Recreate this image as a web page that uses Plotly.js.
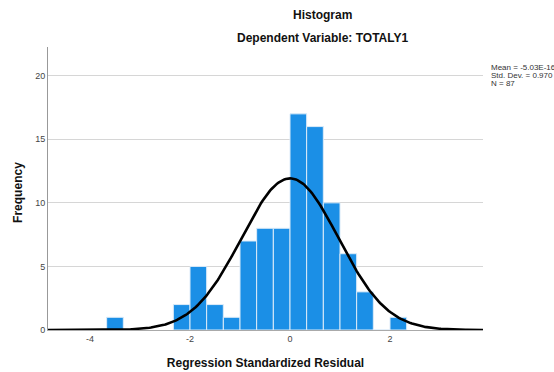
<!DOCTYPE html>
<html>
<head>
<meta charset="utf-8">
<script src="https://cdn.plot.ly/plotly-3.0.1.min.js"></script>
<style>
html,body{margin:0;padding:0;background:#fff;}
#chart{width:554px;height:372px;}
</style>
</head>
<body>
<div id="chart"></div>
<script>
// Histogram bins (lower edges) and frequencies
var binLower = [-3.667, -2.333, -2.0, -1.667, -1.333, -1.0, -0.667, -0.333, 0.0, 0.333, 0.667, 1.0, 1.333, 1.667, 2.0];
var frequency = [1, 2, 5, 2, 1, 7, 8, 8, 17, 16, 10, 6, 3, 0, 1];
var binWidth = 0.3333;

// Summary statistics shown on the chart
var statMean = -5.03e-16;
var statSD = 0.970;
var statN = 87;
var statLabels = ["Mean = -5.03E-16", "Std. Dev. = 0.970", "N = 87"];

var yTicks = [0, 5, 10, 15, 20];
var xTicks = [-4, -2, 0, 2];

// Fitted normal curve from the stated mean / SD / N
var curveX = [], curveY = [];
for (var i = 0; i <= 300; i++) {
  var x = -4.84 + (3.86 + 4.84) * i / 300;
  var z = (x - statMean) / statSD;
  curveX.push(x);
  curveY.push(statN * binWidth * Math.exp(-0.5 * z * z) / (statSD * Math.sqrt(2 * Math.PI)));
}

var bars = {
  type: 'bar',
  x: binLower,
  y: frequency,
  width: binWidth,
  offset: 0,
  marker: {color: '#1b8fe6', line: {color: '#dcebf8', width: 1}},
  hoverinfo: 'x+y'
};
var curve = {
  type: 'scatter',
  mode: 'lines',
  x: curveX,
  y: curveY,
  line: {color: '#000', width: 2.6},
  hoverinfo: 'skip'
};

var font = 'Liberation Sans, Arial, sans-serif';
var annotations = [
  {text: '<b>Histogram</b>', xref: 'paper', yref: 'paper', x: 0.630, y: 1.113, showarrow: false,
   xanchor: 'center', yanchor: 'middle', font: {family: font, size: 12, color: '#111'}},
  {text: '<b>Dependent Variable: TOTALY1</b>', xref: 'paper', yref: 'paper', x: 0.630, y: 1.032, showarrow: false,
   xanchor: 'center', yanchor: 'middle', font: {family: font, size: 12, color: '#111'}},
  {text: '<b>Frequency</b>', xref: 'paper', yref: 'paper', x: -0.069, y: 0.488, showarrow: false,
   textangle: -90, xanchor: 'center', yanchor: 'middle', font: {family: font, size: 12, color: '#111'}}
];
var legY = [0.927, 0.899, 0.870];
for (var k = 0; k < statLabels.length; k++) {
  annotations.push({text: statLabels[k], xref: 'paper', yref: 'paper', x: 1.013, y: legY[k], showarrow: false,
    xanchor: 'left', yanchor: 'middle', font: {family: font, size: 8, color: '#333'}});
}

var layout = {
  width: 554, height: 372,
  margin: {l: 48, r: 71, t: 47, b: 42, pad: 0},
  paper_bgcolor: '#fff', plot_bgcolor: '#fff',
  showlegend: false,
  bargap: 0,
  font: {family: font},
  xaxis: {
    range: [-4.84, 3.86],
    tickvals: xTicks,
    ticktext: xTicks.map(String),
    showgrid: false, zeroline: false,
    showline: true, linecolor: '#aaa', linewidth: 1,
    ticks: '', tickfont: {family: font, size: 9, color: '#444'},
    title: {text: '<b>Regression Standardized Residual</b>', font: {family: font, size: 12, color: '#111'}, standoff: 15}
  },
  yaxis: {
    range: [0, 22.26],
    tickvals: yTicks,
    ticktext: yTicks.map(String),
    showgrid: true, gridcolor: '#d6d6d6', gridwidth: 1,
    zeroline: false,
    showline: true, linecolor: '#999', linewidth: 1,
    ticks: '', tickfont: {family: font, size: 9, color: '#444'}
  },
  annotations: annotations
};

Plotly.newPlot('chart', [bars, curve], layout, {displayModeBar: false, staticPlot: true});
</script>
</body>
</html>
